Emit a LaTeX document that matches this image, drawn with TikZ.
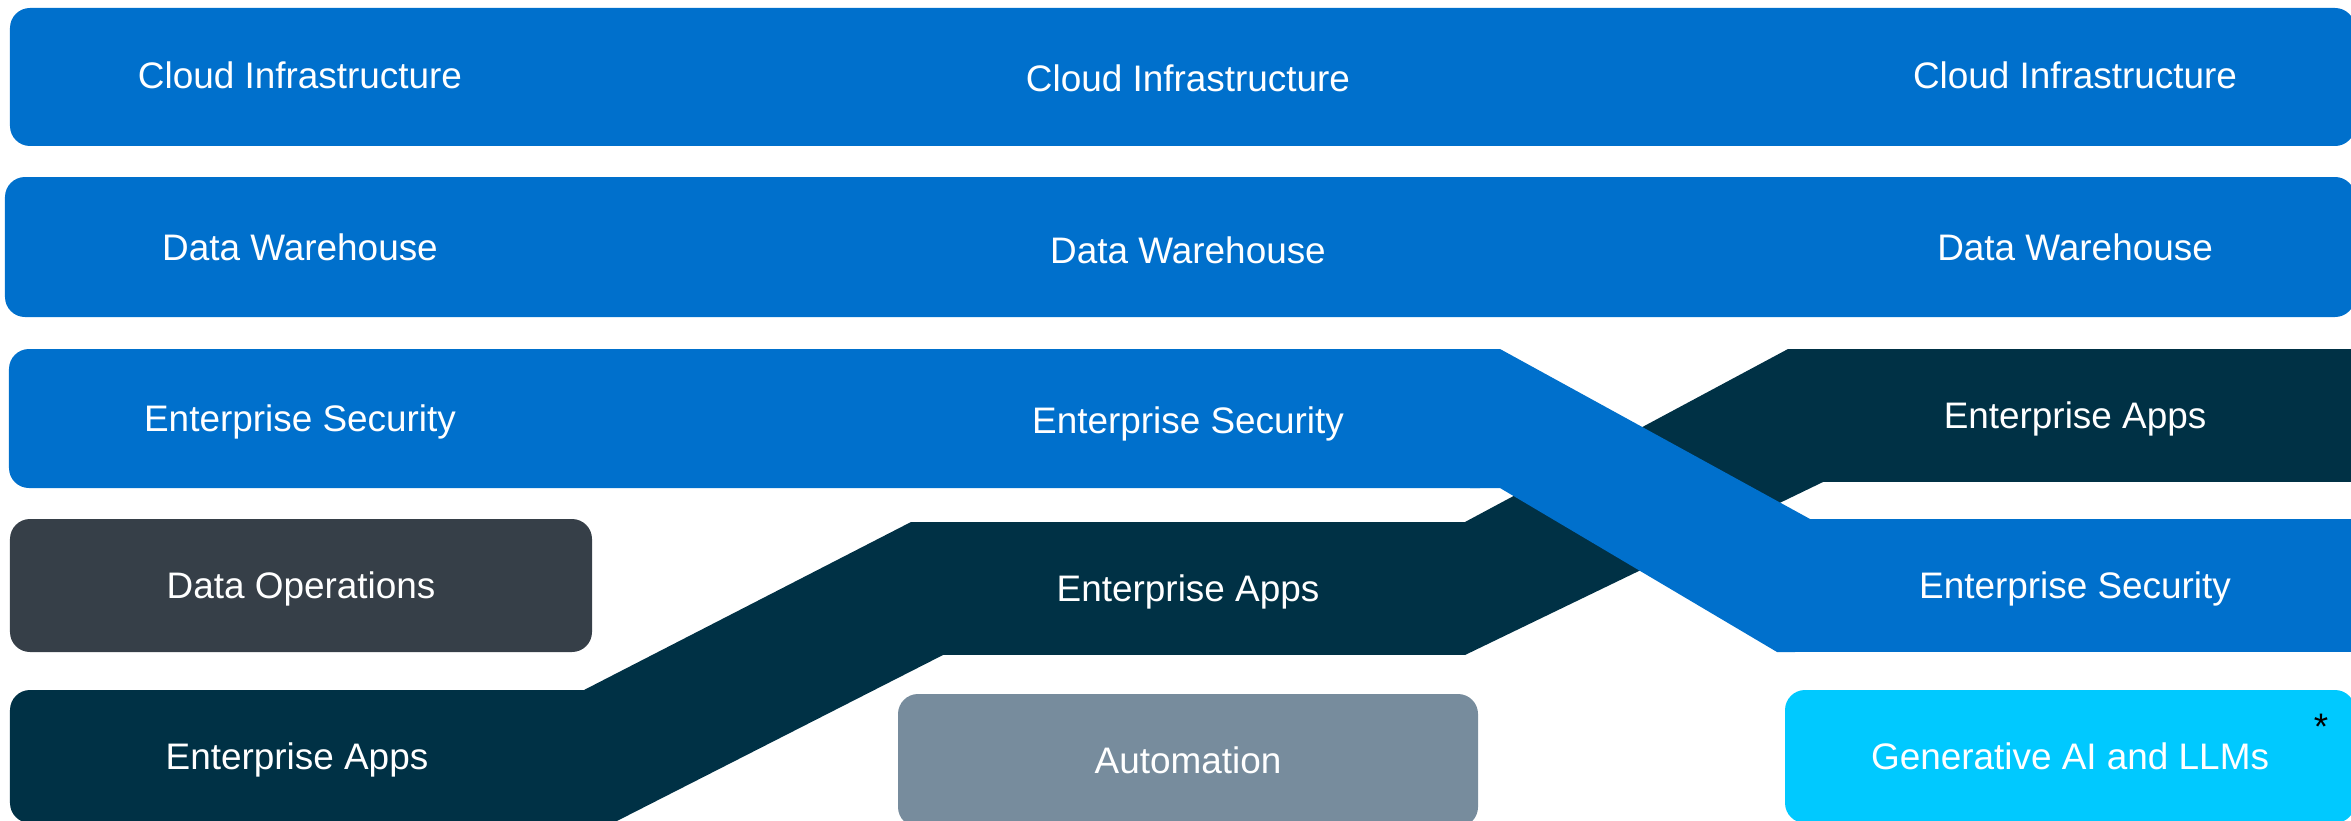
\documentclass[tikz,border=0pt]{standalone}
\usepackage{fontspec}
\setmainfont{Liberation Sans}
\usepackage{tikz}
\usetikzlibrary{positioning,calc}
\definecolor{stackblue}{RGB}{0,112,204}
\definecolor{stacknavy}{RGB}{0,49,69}
\definecolor{stackslate}{RGB}{54,63,72}
\definecolor{stackgrey}{RGB}{119,140,157}
\definecolor{stackcyan}{RGB}{0,201,255}

\begin{document}
\begin{tikzpicture}[
    layer/.style={rectangle, rounded corners=2mm, inner sep=0pt, outer sep=0pt, minimum height=1.33cm, text depth=0pt, text=white, font=\fontsize{10.5}{12}\selectfont},
    bandseg/.style={layer, sharp corners},
    lbl/.style={inner sep=0pt, text depth=0pt, text=white, font=\fontsize{10.5}{12}\selectfont}
]
    \useasboundingbox (0,0) rectangle (23.51,-8.20);
    \clip (0,0) rectangle (23.51,-8.20);

    % Full-width layers
    \node[layer, fill=stackblue, minimum width=23.45cm, minimum height=1.38cm] (cloud) at (11.825,-0.77) {};
    \node[layer, fill=stackblue, minimum width=23.50cm, minimum height=1.40cm] (dwh) at (11.80,-2.47) {};

    % Single boxes
    \node[layer, fill=stackslate, minimum width=5.82cm] (dataops) at (3.01,-5.855) {Data Operations};
    \node[layer, fill=stackgrey, minimum width=5.80cm] (auto) at (11.88,-7.605) {Automation};
    \node[layer, fill=stackcyan, minimum width=5.70cm] (genai) at (20.70,-7.565) {Generative AI and LLMs};

    % Enterprise Apps ribbon
    \node[layer, fill=stacknavy, minimum width=5.74cm] (apps1) at (2.97,-7.565) {Enterprise Apps};
    \node[bandseg, fill=stacknavy, minimum width=5.54cm] (apps2) at (11.88,-5.885) {Enterprise Apps};
    \node[bandseg, fill=stacknavy, minimum width=5.60cm] (apps3) at (20.75,-4.155) {Enterprise Apps};
    \fill[stacknavy] ([xshift=-3mm]apps1.north east) -- (apps1.north east) -- (apps2.north west)
        -- ([xshift=3.2mm]apps2.south west) -- ([xshift=2.9mm]apps1.south east)
        -- (apps1.south east) -- ([xshift=-3mm]apps1.south east) -- cycle;
    \fill[stacknavy] (apps2.north east) -- ([xshift=-0.7mm]apps3.north west) -- (apps3.north west)
        -- ([xshift=2.8mm]apps3.south west) -- (apps2.south east) -- cycle;

    % Enterprise Security ribbon
    \node[layer, fill=stackblue, minimum width=14.91cm, minimum height=1.39cm] (sec12) at (7.545,-4.185) {};
    \node[bandseg, fill=stackblue, minimum width=5.60cm] (sec3) at (20.75,-5.855) {Enterprise Security};
    \fill[stackblue] ([xshift=-3mm]sec12.north east) -- (sec12.north east) -- ([xshift=1.5mm]sec3.north west)
        -- (sec3.south west) -- ([xshift=-1.8mm]sec3.south west)
        -- (sec12.south east) -- ([xshift=-3mm]sec12.south east) -- cycle;

    % Labels on the wide layers
    \foreach \x/\n/\y in {3.0/a/0,11.88/b/-0.03,20.75/c/0} {
        \node[lbl] (cloud\n) at (\x,-0.75+\y) {Cloud Infrastructure};
        \node[lbl] (dwh\n) at (\x,-2.47+\y) {Data Warehouse};
    }
    \node[lbl] (seca) at (3.0,-4.18) {Enterprise Security};
    \node[lbl] (secb) at (11.88,-4.20) {Enterprise Security};

    % Footnote mark
    \node[inner sep=0pt, font=\fontsize{10.5}{12}\selectfont] (note) at (23.21,-7.27) {*};
\end{tikzpicture}
\end{document}
